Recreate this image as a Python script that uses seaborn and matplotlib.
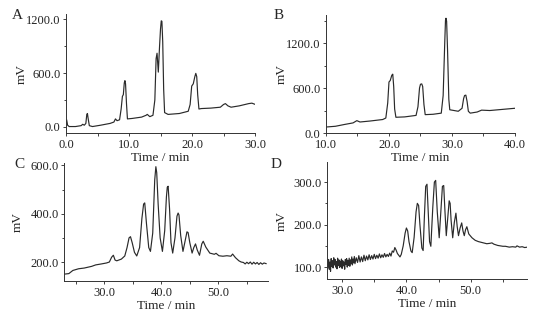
import seaborn as sns
import matplotlib.pyplot as plt
from matplotlib.ticker import MultipleLocator, FormatStrFormatter

# chromatogram traces (time in min, signal in mV)
a_time = [0.0, 0.1, 0.25, 0.5, 1.5, 2.4, 2.65, 2.9, 3.15, 3.3, 3.4, 3.5, 3.7, 4.2, 5.5,
          7.0, 7.6, 7.85, 8.1, 8.5, 8.75, 8.95, 9.1, 9.25, 9.35, 9.45, 9.6, 9.75, 10.5,
          12.0, 12.7, 12.9, 13.3, 13.8, 14.1, 14.3, 14.45, 14.65, 14.85, 15.0, 15.12,
          15.22, 15.35, 15.5, 15.65, 16.2, 18.0, 19.4, 19.7, 19.95, 20.2, 20.45, 20.6,
          20.75, 20.9, 21.1, 21.5, 23.0, 24.5, 25.0, 25.3, 25.7, 26.2, 27.5, 29.0,
          29.5, 30.0]
a_mv = [40, 80, 20, 5, 5, 15, 30, 20, 40, 140, 150, 100, 15, 5, 20,
        40, 55, 90, 70, 80, 200, 340, 360, 490, 515, 480, 260, 90, 95,
        110, 130, 140, 115, 130, 300, 760, 820, 610, 900, 1090, 1180,
        1175, 950, 420, 160, 140, 150, 175, 250, 455, 480, 560, 596,
        560, 360, 200, 205, 210, 220, 250, 260, 235, 220, 235, 260,
        265, 252]

b_time = [10.0, 11.5, 13.0, 14.3, 14.9, 15.4, 17.0, 19.0, 19.5, 19.8, 20.0, 20.2, 20.45,
          20.6, 20.75, 20.9, 21.1, 22.5, 24.3, 24.6, 24.85, 25.0, 25.2, 25.35, 25.55,
          25.75, 27.0, 28.3, 28.6, 28.85, 28.97, 29.05, 29.15, 29.3, 29.5, 29.65, 31.0,
          31.6, 31.85, 32.0, 32.2, 32.4, 32.6, 32.9, 34.0, 34.7, 36.0, 38.0, 40.0]
b_mv = [80, 90, 115, 135, 165, 147, 160, 180, 200, 400, 680, 700, 770,
        785, 620, 320, 210, 215, 235, 350, 600, 650, 655, 620, 380,
        245, 250, 265, 500, 1200, 1500, 1530, 1490, 1100, 450, 310, 290,
        330, 460, 500, 505, 420, 290, 265, 280, 305, 300, 315, 330]

c_time = [23.1, 23.8, 24.5, 25.5, 26.5, 27.8, 28.5, 29.5, 30.4, 30.9, 31.3, 31.6, 31.9,
          32.2, 33.0, 33.6, 34.0, 34.35, 34.6, 34.9, 35.3, 35.7, 36.2, 36.6, 36.9, 37.1,
          37.4, 37.8, 38.1, 38.5, 38.85, 39.05, 39.2, 39.45, 39.8, 40.2, 40.6, 40.9,
          41.05, 41.2, 41.45, 41.7, 42.0, 42.4, 42.75, 42.95, 43.1, 43.4, 43.8, 44.2,
          44.5, 44.7, 45.0, 45.4, 45.7, 46.0, 46.3, 46.7, 47.1, 47.35, 47.8, 48.5, 49.3,
          49.6, 50.1, 50.8, 51.5, 52.2, 52.5, 53.0, 53.6, 54.0, 54.4, 54.7, 55.0, 55.3,
          55.6, 55.9, 56.2, 56.5, 56.8, 57.1, 57.4, 57.7, 58.0, 58.4]
c_mv = [150, 152, 165, 172, 175, 182, 188, 192, 196, 200, 220, 228, 208,
        205, 212, 225, 260, 300, 305, 280, 240, 225, 260, 380, 440, 445,
        360, 260, 244, 320, 540, 595, 570, 440, 300, 244, 330, 470,
        510, 514, 420, 280, 237, 300, 390, 403, 395, 310, 244, 290,
        325, 322, 280, 237, 260, 275, 250, 228, 275, 286, 262, 237, 232,
        236, 226, 224, 226, 224, 233, 218, 205, 200, 198, 192, 199, 193,
        200, 191, 199, 192, 198, 190, 197, 191, 196, 193]

d_time = [27.8, 27.9, 28.0, 28.1, 28.2, 28.3, 28.4, 28.5, 28.6, 28.7, 28.8, 28.9, 29.0,
          29.1, 29.2, 29.3, 29.4, 29.5, 29.6, 29.7, 29.8, 29.9, 30.0, 30.1, 30.2, 30.3,
          30.4, 30.5, 30.6, 30.7, 30.8, 30.9, 31.0, 31.1, 31.2, 31.3, 31.4, 31.5, 31.6,
          31.7, 31.8, 31.9, 32.0, 32.2, 32.4, 32.6, 32.8, 33.0, 33.2, 33.4, 33.6, 33.8,
          34.0, 34.2, 34.4, 34.6, 34.8, 35.0, 35.2, 35.4, 35.6, 35.8, 36.0, 36.2, 36.4,
          36.6, 36.8, 37.0, 37.2, 37.4, 37.6, 37.8, 38.0, 38.2, 38.4, 38.6, 38.8, 39.0,
          39.2, 39.5, 39.8, 40.0, 40.2, 40.4, 40.7, 40.9, 41.2, 41.5, 41.7, 41.9, 42.1,
          42.4, 42.6, 42.8, 43.0, 43.2, 43.4, 43.6, 43.8, 44.1, 44.35, 44.55, 44.8, 45.1,
          45.4, 45.6, 45.8, 46.0, 46.2, 46.45, 46.65, 46.8, 46.95, 47.2, 47.45, 47.7,
          47.9, 48.1, 48.35, 48.6, 48.8, 49.0, 49.2, 49.4, 49.7, 50.2, 50.7, 51.2, 52.0,
          52.5, 53.0, 53.3, 53.6, 54.2, 55.0, 55.4, 56.0, 56.5, 57.0, 57.2, 57.6, 58.0,
          58.4, 58.8]
d_mv = [100, 118, 95, 112, 90, 120, 102, 115, 98, 122, 105, 118, 100,
        113, 96, 121, 104, 117, 99, 114, 101, 119, 97, 115, 103, 112,
        95, 118, 106, 120, 100, 116, 104, 121, 102, 117, 108, 124, 105,
        119, 110, 125, 108, 122, 111, 127, 112, 124, 113, 128, 115, 126,
        117, 129, 118, 127, 119, 130, 120, 128, 121, 131, 122, 129, 123,
        132, 124, 130, 125, 133, 126, 138, 135, 146, 140, 132, 128, 124,
        130, 150, 180, 192, 185, 160, 138, 134, 170, 230, 250, 245, 200,
        145, 139, 220, 290, 295, 230, 160, 149, 240, 300, 304, 230, 169,
        240, 290, 292, 230, 174, 220, 256, 250, 210, 169, 205, 227, 195,
        174, 192, 204, 185, 174, 188, 195, 178, 169, 163, 160, 157,
        155, 156, 157, 154, 151, 149, 149, 147, 148, 147, 150, 147, 148,
        146, 147]

sns.set_theme(style='ticks')
plt.rcParams['font.family'] = ['Liberation Serif', 'DejaVu Serif']

fig = plt.figure(figsize=(5.38, 3.13), dpi=100)

panels = [
    ('A', a_time, a_mv, [0.1227, 0.575, 0.3513, 0.380], (0, 30), (-67, 1255), 600, 300),
    ('B', b_time, b_mv, [0.6059, 0.575, 0.3513, 0.377], (10, 40), (0, 1573), 600, 300),
    ('C', c_time, c_mv, [0.1195, 0.102, 0.3786, 0.377], (23, 58.7), (121, 610), 200, 100),
    ('D', d_time, d_mv, [0.6084, 0.1086, 0.3717, 0.3734], (27.7, 58.8), (72, 347), 100, 50),
]
letter_pos = {'A': (0.033, 0.952), 'B': (0.517, 0.952),
              'C': (0.037, 0.476), 'D': (0.513, 0.473)}

for name, t, mv, rect, xl, yl, ymaj, ymin in panels:
    ax = fig.add_axes(rect)
    sns.lineplot(x=t, y=mv, ax=ax, color='#2a2a2a', linewidth=0.85, estimator=None)
    ax.set_xlim(*xl)
    ax.set_ylim(*yl)
    ax.xaxis.set_major_locator(MultipleLocator(10))
    ax.xaxis.set_minor_locator(MultipleLocator(5))
    ax.yaxis.set_major_locator(MultipleLocator(ymaj))
    ax.yaxis.set_minor_locator(MultipleLocator(ymin))
    ax.xaxis.set_major_formatter(FormatStrFormatter('%.1f'))
    ax.yaxis.set_major_formatter(FormatStrFormatter('%.1f'))
    ax.tick_params(which='both', direction='out', length=2.5, width=0.6, pad=1.5,
                   labelsize=9, colors='#222222')
    ax.tick_params(which='minor', length=1.8)
    for s in ['top', 'right']:
        ax.spines[s].set_visible(False)
    for s in ['left', 'bottom']:
        ax.spines[s].set_linewidth(0.7)
        ax.spines[s].set_color('#333333')
    ax.set_xlabel('Time / min', fontsize=9.5, labelpad=1)
    ax.set_ylabel('mV', fontsize=9.5)
    ax.yaxis.set_label_coords(-0.2, 0.5)
    fig.text(*letter_pos[name], name, fontsize=11, ha='center', va='center')

fig.savefig('out.png', dpi=100, facecolor='white')
